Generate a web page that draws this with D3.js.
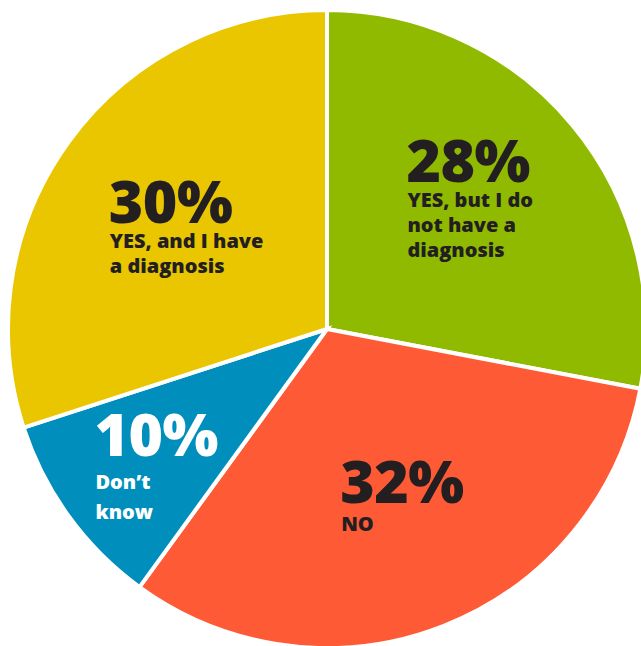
<!DOCTYPE html>
<html>
<head>
<meta charset="utf-8">
<script src="https://cdn.jsdelivr.net/npm/d3@7"></script>
<style>
  html, body { margin: 0; padding: 0; background: #fff; }
  svg { display: block; }
  text { font-family: "Open Sans", Lato, sans-serif; }
</style>
</head>
<body>
<svg id="chart" width="641" height="646"></svg>
<script>
// Survey answers, clockwise from 12 o'clock
const categories = ["YES, but I do not have a diagnosis", "NO", "Don’t know", "YES, and I have a diagnosis"];
const values = [28, 32, 10, 30];
const labelLines = [
  ["YES, but I do", "not have a", "diagnosis"],
  ["NO"],
  ["Don’t", "know"],
  ["YES, and I have", "a diagnosis"]
];
const colors = ["#8fba00", "#ff5a36", "#008fbd", "#e9c600"];
const textColors = ["#231f20", "#231f20", "#ffffff", "#231f20"];

// Layout: hand-tuned nudges for the label blocks (px), per slice
const labelNudge = [[5, -14], [0, -10], [2, -6], [13, -7]];

const width = 641, height = 646;
const cx = 327, cy = 329, radius = 319;

const svg = d3.select("#chart");
const g = svg.append("g").attr("transform", `translate(${cx},${cy})`);

const data = categories.map((c, i) => ({ category: c, value: values[i], lines: labelLines[i], i }));

const pie = d3.pie().sort(null).value(d => d.value);
const arc = d3.arc().innerRadius(0).outerRadius(radius);
const arcs = pie(data);

g.selectAll("path.slice")
  .data(arcs)
  .join("path")
  .attr("class", "slice")
  .attr("d", arc)
  .attr("fill", d => colors[d.data.i])
  .attr("stroke", "#fff")
  .attr("stroke-width", 4)
  .attr("stroke-linejoin", "miter");

// Label blocks: big percentage plus a wrapped caption, left aligned,
// centred on a point along the slice's bisector (small slices pushed outward)
arcs.forEach(a => {
  const share = a.data.value / d3.sum(values);
  const small = share < 0.15;
  const r = small ? radius * 0.69 : radius * 0.58;
  const mid = (a.startAngle + a.endAngle) / 2 - 0.04;
  const [nx, ny] = labelNudge[a.data.i];
  const px = Math.sin(mid) * r + nx, py = -Math.cos(mid) * r + ny;

  const block = g.append("g");
  const fill = textColors[a.data.i];
  block.append("text")
    .attr("x", 0).attr("y", 0)
    .attr("font-size", 59)
    .attr("font-weight", 800)
    .attr("letter-spacing", -0.5)
    .attr("fill", fill)
    .text(a.data.value + "%");
  const lh = small ? 30 : 25;
  const first = small ? 33 : (a.data.lines.length === 1 ? 28 : 25);
  a.data.lines.forEach((line, k) => {
    block.append("text")
      .attr("x", 1).attr("y", first + k * lh)
      .attr("font-size", 20)
      .attr("font-weight", 800)
      .attr("fill", fill)
      .text(line);
  });
  const bb = block.node().getBBox();
  block.attr("transform", `translate(${px - bb.x - bb.width / 2},${py - bb.y - bb.height / 2})`);
});
</script>
</body>
</html>
